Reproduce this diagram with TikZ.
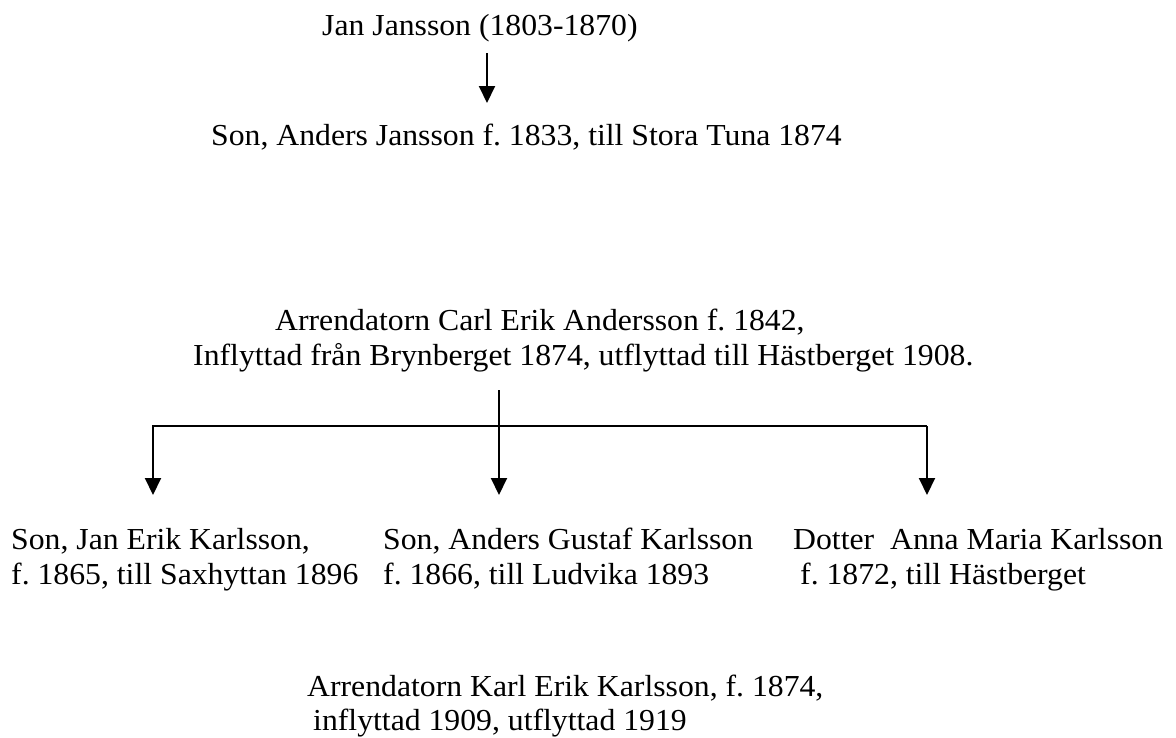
\documentclass[tikz,border=0pt]{standalone}
\usepackage{fontspec}
\setmainfont[FakeStretch=1.04]{Liberation Serif}
\usetikzlibrary{arrows.meta}
\frenchspacing
\tikzset{
  rad/.style={anchor=base west, inner sep=0pt,
    font=\fontsize{30.5}{35}\selectfont},
  pil/.style={line width=2pt, -{Triangle[length=17pt,width=16pt]}},
  linje/.style={line width=2pt}
}

\begin{document}
\begin{tikzpicture}[x=1pt,y=-1pt]
\useasboundingbox (0,0) rectangle (1176,737);
% Jan Jansson och sonen
\node[rad] (jan) at (322,35) {Jan Jansson (1803-1870)};
\node[rad] (anders) at (211,145) {Son, Anders Jansson f. 1833, till Stora Tuna 1874};
\coordinate (jan-ut) at (487,53);
\coordinate (anders-in) at (487,103);
\draw[pil] (jan-ut) -- (anders-in);

% Arrendatorn och barnen
\node[rad] (carl1) at (275,330) {Arrendatorn Carl Erik Andersson f. 1842,};
\node[rad] (carl2) at (193,365) {Inflyttad från Brynberget 1874, utflyttad till Hästberget 1908.};
\coordinate (topp) at (499,390);
\coordinate (mitt) at (499,495);
\coordinate (vanster) at (153,426);
\coordinate (hoger) at (927,426);
\draw[pil] (topp) -- (mitt);
\draw[pil] (hoger) -- (vanster) -- (vanster |- mitt);
\draw[pil] (hoger) -- (hoger |- mitt);

\node[rad] (jan1) at (11,549) {Son, Jan Erik Karlsson,};
\node[rad] (jan2) at (11,584) {f. 1865, till Saxhyttan 1896};
\node[rad] (gustaf1) at (383,549) {Son, Anders Gustaf Karlsson};
\node[rad] (gustaf2) at (383,584) {f. 1866, till Ludvika 1893};
\node[rad] (anna1) at (793,549) {Dotter\ \ Anna Maria Karlsson};
\node[rad] (anna2) at (800,584) {f. 1872, till Hästberget};

% nästa arrendator
\node[rad] (karl1) at (307,696) {Arrendatorn Karl Erik Karlsson, f. 1874,};
\node[rad] (karl2) at (313,730) {inflyttad 1909, utflyttad 1919};
\end{tikzpicture}
\end{document}
